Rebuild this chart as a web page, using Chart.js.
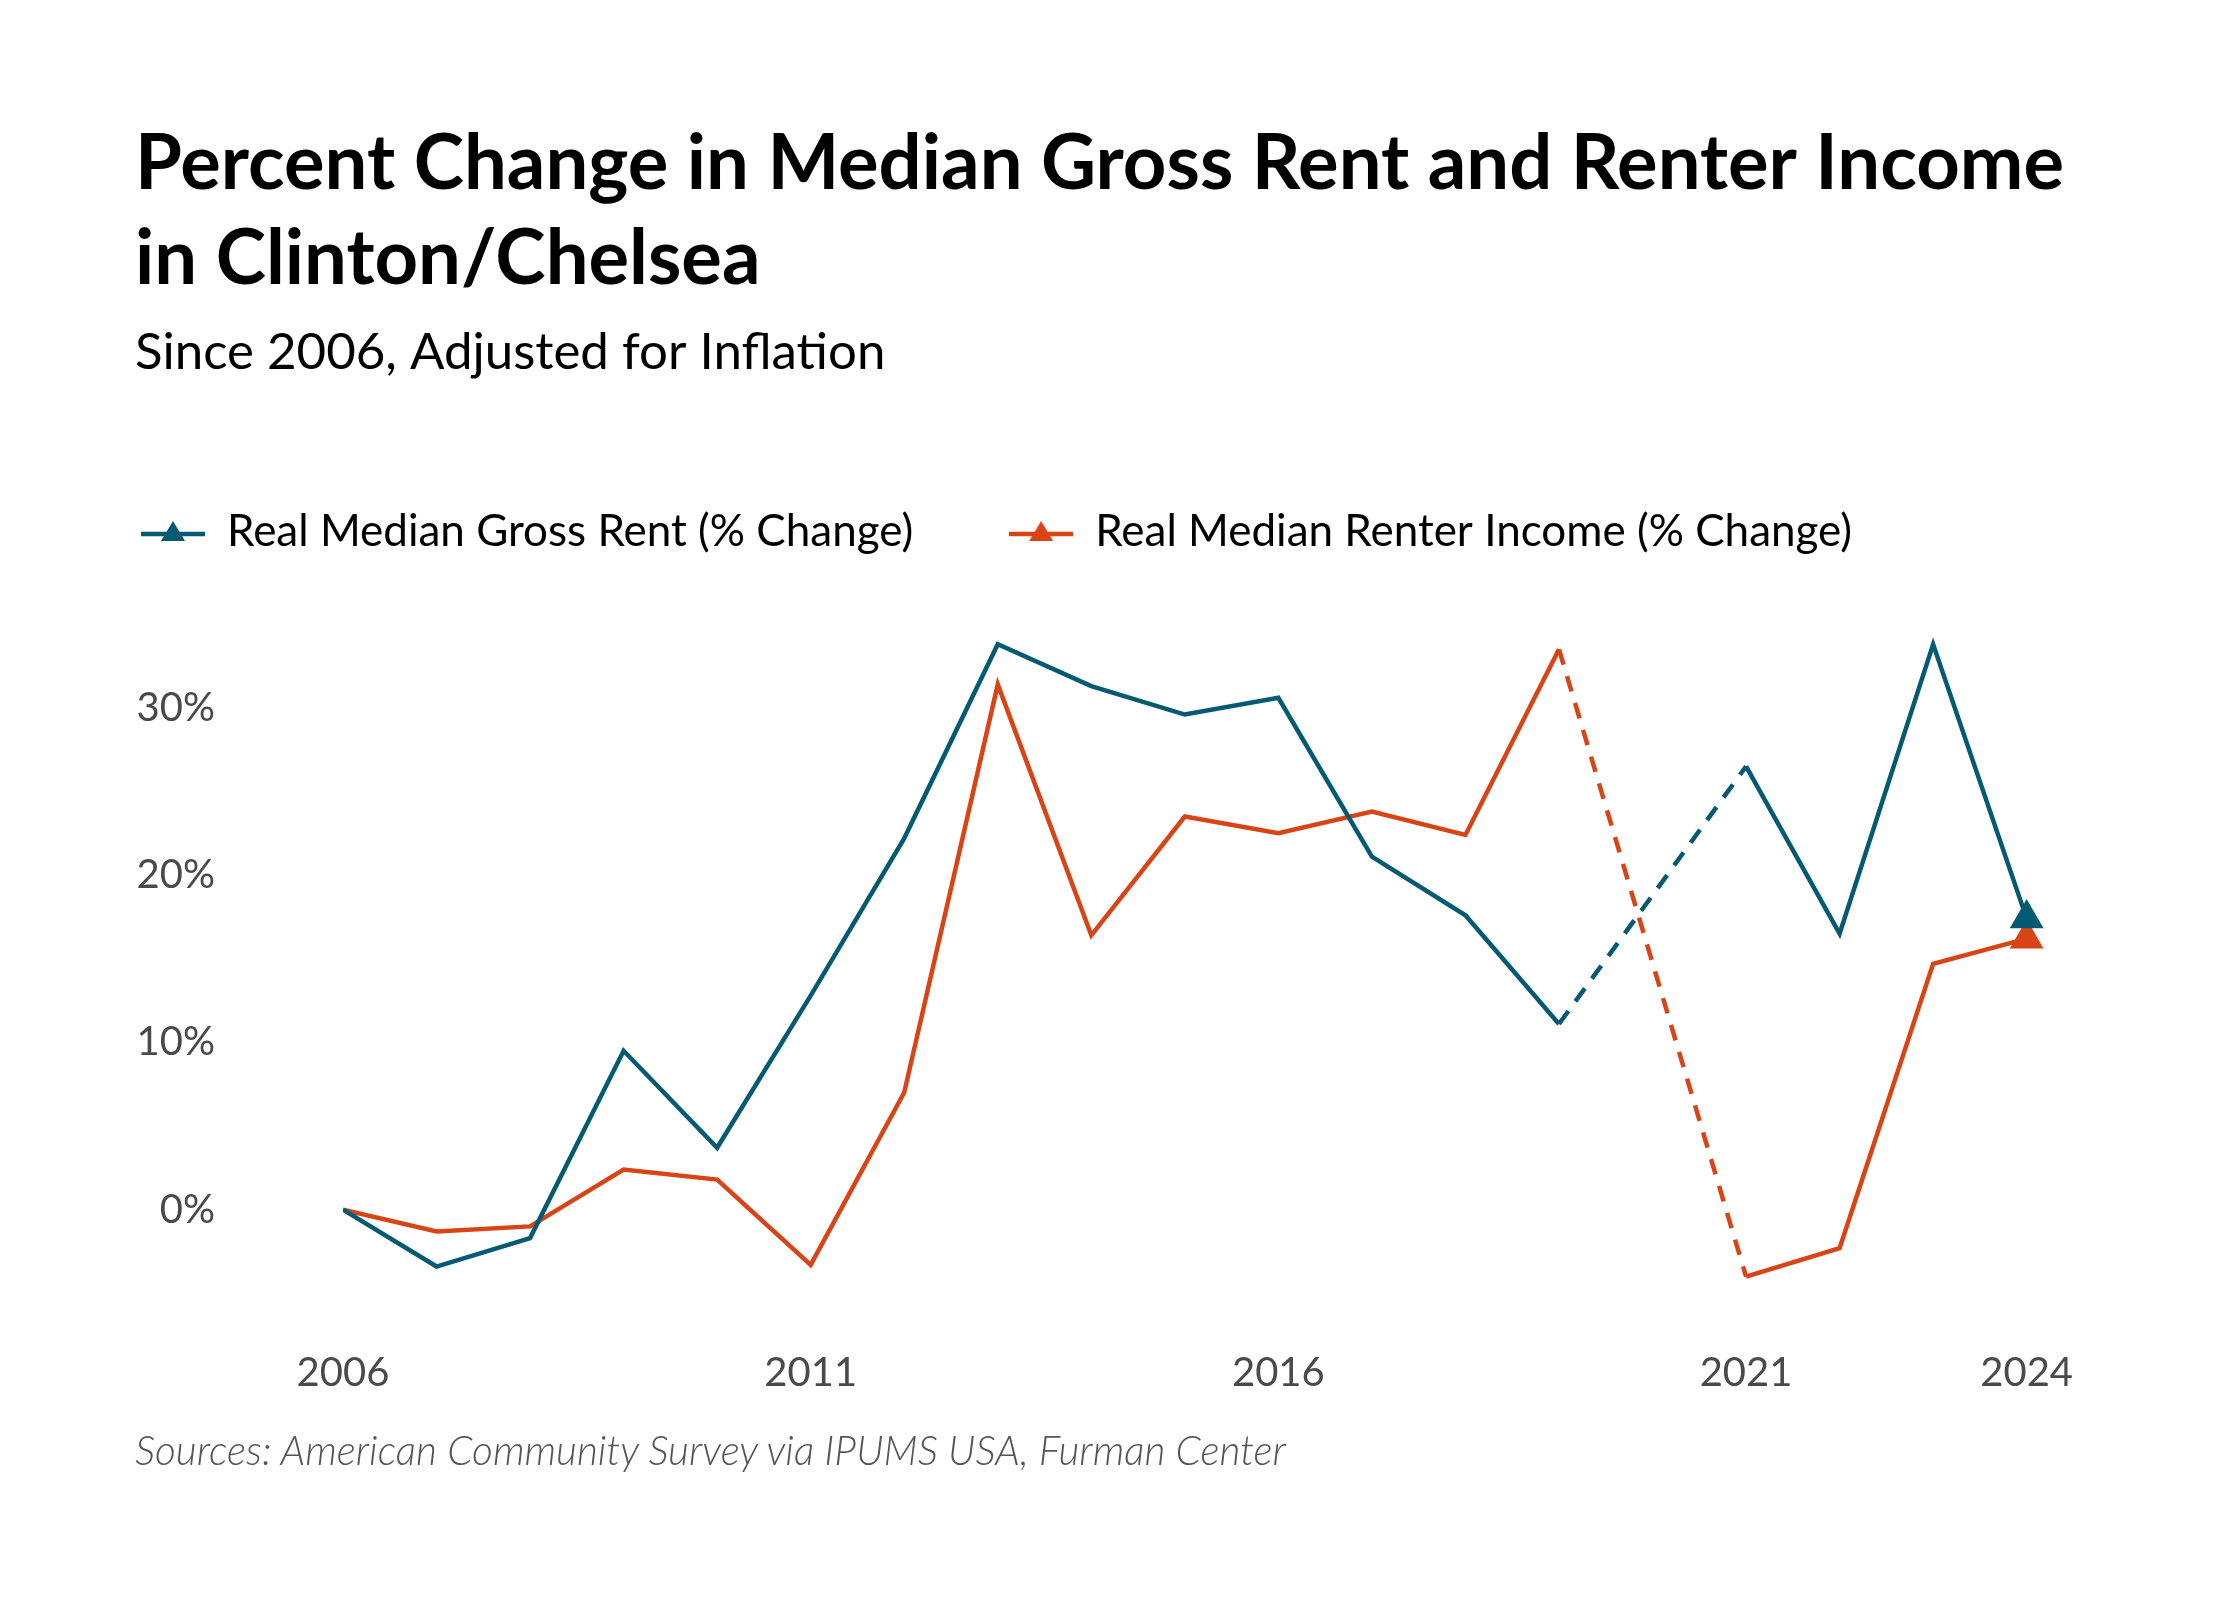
<!DOCTYPE html>
<html>
<head>
<meta charset="utf-8">
<script src="https://cdn.jsdelivr.net/npm/chart.js@4.4.1/dist/chart.umd.min.js"></script>
<style>
  html, body { margin: 0; padding: 0; background: #fff; }
  #wrap { position: relative; width: 2240px; height: 1600px; }
  #myChart { position: absolute; left: 0; top: 0; }
  #source {
    position: absolute; left: 135px; top: 1425px;
    font-family: Lato, sans-serif; font-style: italic; font-weight: 300;
    font-size: 40.5px; color: #555;
  }
</style>
</head>
<body>
<div id="wrap">
  <canvas id="myChart" width="2240" height="1600"></canvas>
  <div id="source">Sources: American Community Survey via IPUMS USA, Furman Center</div>
</div>
<script>
// Datos (2020 sin dato: se une con línea punteada)
const years = [2006, 2007, 2008, 2009, 2010, 2011, 2012, 2013, 2014, 2015,
               2016, 2017, 2018, 2019, 2020, 2021, 2022, 2023, 2024];
const rentChange = [0, -3.4, -1.7, 9.5, 3.7, 12.8, 22.2, 33.8, 31.3, 29.6,
                    30.6, 21.1, 17.6, 11.1, null, 26.5, 16.5, 33.8, 17.4];
const incomeChange = [0, -1.3, -1.0, 2.4, 1.8, -3.3, 7.0, 31.4, 16.4, 23.5,
                      22.5, 23.8, 22.4, 33.5, null, -4.0, -2.3, 14.7, 16.2];
const xTickYears = [2006, 2011, 2016, 2021, 2024];
const yTicks = [0, 10, 20, 30];

const blue = '#045a73';
const orange = '#d94416';
const lastIdx = years.length - 1;

// Marcador de la leyenda: línea con triángulo
function legendMarker(color) {
  const c = document.createElement('canvas');
  c.width = 64; c.height = 40;
  const g = c.getContext('2d');
  g.strokeStyle = color; g.lineWidth = 4.5;
  g.beginPath(); g.moveTo(0, 22); g.lineTo(64, 22); g.stroke();
  g.fillStyle = color;
  g.beginPath(); g.moveTo(32, 9); g.lineTo(44, 29); g.lineTo(20, 29); g.closePath(); g.fill();
  return c;
}

const dashGap = (ctx) => (ctx.p0.skip || ctx.p1.skip) ? [16, 12] : undefined;

const ctx = document.getElementById('myChart');

new Chart(ctx, {
  type: 'line',
  data: {
    labels: years,
    datasets: [{
      label: 'Real Median Gross Rent (% Change)',
      data: rentChange,
      borderColor: blue,
      backgroundColor: blue,
      borderWidth: 4.5,
      pointStyle: 'triangle',
      pointRadius: (c) => c.dataIndex === lastIdx ? 15 : 0,
      pointHoverRadius: 0,
      spanGaps: true,
      segment: { borderDash: dashGap },
      tension: 0
    }, {
      label: 'Real Median Renter Income (% Change)',
      data: incomeChange,
      borderColor: orange,
      backgroundColor: orange,
      borderWidth: 4.5,
      pointStyle: 'triangle',
      pointRadius: (c) => c.dataIndex === lastIdx ? 15 : 0,
      pointHoverRadius: 0,
      spanGaps: true,
      segment: { borderDash: dashGap },
      tension: 0
    }]
  },
  options: {
    responsive: false,
    devicePixelRatio: 1,
    animation: false,
    layout: { padding: { left: 135, right: 30, top: 0, bottom: 167 } },
    plugins: {
      title: {
        display: true,
        align: 'start',
        text: ['Percent Change in Median Gross Rent and Renter Income', 'in Clinton/Chelsea'],
        color: '#000',
        font: { family: 'Lato', size: 76, weight: 'bold', lineHeight: 95 / 76 },
        padding: { top: 117, bottom: 0 }
      },
      subtitle: {
        display: true,
        align: 'start',
        text: 'Since 2006, Adjusted for Inflation',
        color: '#000',
        font: { family: 'Lato', size: 51, weight: 'normal', lineHeight: 55 / 51 },
        padding: { top: 18, bottom: 34 }
      },
      legend: {
        display: true,
        align: 'start',
        labels: {
          usePointStyle: true,
          pointStyleWidth: 64,
          boxHeight: 40,
          padding: 96,
          color: '#000',
          font: { family: 'Lato', size: 44 },
          generateLabels: (chart) => chart.data.datasets.map((ds, i) => ({
            text: ds.label,
            pointStyle: legendMarker(ds.borderColor),
            fillStyle: ds.borderColor,
            strokeStyle: ds.borderColor,
            lineWidth: 0,
            fontColor: '#000',
            datasetIndex: i,
            hidden: false
          }))
        }
      },
      tooltip: { enabled: false }
    },
    scales: {
      x: {
        type: 'linear',
        min: 2006,
        max: 2025.96,
        grid: { display: false },
        border: { display: false },
        afterBuildTicks: (scale) => { scale.ticks = xTickYears.map(v => ({ value: v })); },
        ticks: {
          maxRotation: 0,
          padding: 36,
          color: '#4a4a4a',
          font: { family: 'Lato', size: 40 },
          callback: (v) => String(v)
        }
      },
      y: {
        min: -5.7,
        max: 38.6,
        grid: { display: false, drawTicks: false },
        border: { display: false },
        afterFit: (scale) => { scale.width = 208; },
        afterBuildTicks: (scale) => { scale.ticks = yTicks.map(v => ({ value: v })); },
        ticks: {
          padding: 128,
          color: '#4a4a4a',
          font: { family: 'Lato', size: 40 },
          callback: (v) => v + '%'
        }
      }
    }
  },
  plugins: [{
    id: 'legendShift',
    afterLayout: (chart) => {
      // acercar la leyenda al margen izquierdo
      chart.legend.left = 135 - chart.legend.options.labels.padding + 6;
    }
  }]
});
</script>
</body>
</html>
